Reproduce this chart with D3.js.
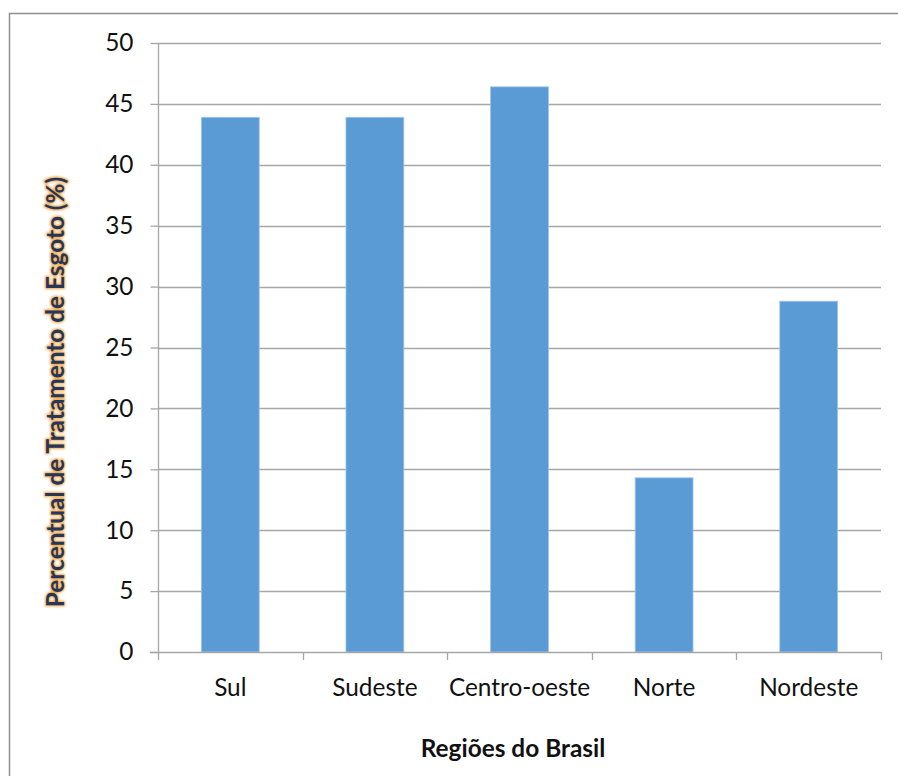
<!DOCTYPE html>
<html>
<head>
<meta charset="utf-8">
<script src="https://cdn.jsdelivr.net/npm/d3@7"></script>
<style>
  html, body { margin: 0; padding: 0; background: #fff; }
  svg { display: block; }
  text { font-family: Lato, "Open Sans", sans-serif; }
</style>
</head>
<body>
<svg id="chart" width="898" height="776"></svg>
<script>
// Sewage treatment share by Brazilian region
const regions = ["Sul", "Sudeste", "Centro-oeste", "Norte", "Nordeste"];
const treatmentPct = [43.9, 43.9, 46.4, 14.3, 28.8];
const yTicks = [0, 5, 10, 15, 20, 25, 30, 35, 40, 45, 50];
const xTitle = "Regiões do Brasil";
const yTitle = "Percentual de Tratamento de Esgoto (%)";

const svg = d3.select("#chart");
const W = 898, H = 776;
const plot = { left: 158, right: 881, top: 43, bottom: 652 };
const labelSize = 24.4;
const titleSize = 24.4;

// outer chart frame (runs off the right and bottom edges)
svg.append("rect")
  .attr("x", 9.5).attr("y", 13.5)
  .attr("width", W).attr("height", H)
  .attr("fill", "none")
  .attr("stroke", "#8f8f8f")
  .attr("stroke-width", 1.5);

const x = d3.scaleBand()
  .domain(regions)
  .range([plot.left, plot.right])
  .paddingInner(0.6)
  .paddingOuter(0.3);

const y = d3.scaleLinear()
  .domain([0, 50])
  .range([plot.bottom, plot.top]);

const gridColor = "#a6a6a6";

// horizontal gridlines
svg.append("g")
  .selectAll("line")
  .data(yTicks.filter(t => t > 0))
  .join("line")
  .attr("x1", plot.left).attr("x2", plot.right)
  .attr("y1", d => Math.round(y(d)) + 0.5)
  .attr("y2", d => Math.round(y(d)) + 0.5)
  .attr("stroke", gridColor)
  .attr("stroke-width", 1.3);

// bars
svg.append("g")
  .selectAll("rect")
  .data(regions.map((r, i) => ({ r, v: treatmentPct[i] })))
  .join("rect")
  .attr("x", d => x(d.r))
  .attr("y", d => y(d.v))
  .attr("width", x.bandwidth())
  .attr("height", d => y(0) - y(d.v))
  .attr("fill", "#5b9bd5")
  .attr("stroke", "#9fc4e8")
  .attr("stroke-width", 0.8);

// y axis
const yAxis = svg.append("g")
  .attr("transform", `translate(${plot.left + 0.5},0)`)
  .call(d3.axisLeft(y).tickValues(yTicks).tickSize(8).tickPadding(17).tickFormat(d3.format("d")));
yAxis.select(".domain").attr("stroke", gridColor).attr("stroke-width", 1.3)
  .attr("d", `M0,${plot.top}V${plot.bottom}`);
yAxis.selectAll(".tick line").attr("stroke", gridColor).attr("stroke-width", 1.3);
yAxis.selectAll(".tick text")
  .attr("font-family", "Lato, 'Open Sans', sans-serif")
  .attr("font-size", labelSize)
  .attr("fill", "#111");

// x axis baseline with ticks at category boundaries
const step = x.step();
const bounds = d3.range(regions.length + 1).map(i => x.range()[0] + i * step);
const xg = svg.append("g");
xg.append("line")
  .attr("x1", plot.left - 8).attr("x2", plot.right)
  .attr("y1", y(0) + 0.5).attr("y2", y(0) + 0.5)
  .attr("stroke", gridColor).attr("stroke-width", 1.3);
xg.selectAll("line.tk")
  .data(bounds)
  .join("line")
  .attr("class", "tk")
  .attr("x1", d => Math.round(d) + 0.5).attr("x2", d => Math.round(d) + 0.5)
  .attr("y1", y(0)).attr("y2", y(0) + 8)
  .attr("stroke", gridColor).attr("stroke-width", 1.3);
xg.selectAll("text")
  .data(regions)
  .join("text")
  .attr("x", d => x(d) + x.bandwidth() / 2)
  .attr("y", 696)
  .attr("text-anchor", "middle")
  .attr("font-size", labelSize)
  .attr("fill", "#111")
  .text(d => d);

// axis titles
svg.append("text")
  .attr("x", 513).attr("y", 757)
  .attr("text-anchor", "middle")
  .attr("font-size", titleSize)
  .attr("font-weight", "bold")
  .attr("fill", "#111")
  .text(xTitle);

const defs = svg.append("defs");
defs.append("filter").attr("id", "glow")
  .append("feGaussianBlur").attr("stdDeviation", 0.9);

const yt = svg.append("g").attr("transform", "translate(64,392) rotate(-90)");
yt.append("text")
  .attr("text-anchor", "middle")
  .attr("font-size", titleSize)
  .attr("font-weight", "bold")
  .attr("fill", "#f0a040")
  .attr("stroke", "#f0a848")
  .attr("stroke-width", 2.2)
  .attr("filter", "url(#glow)")
  .text(yTitle);
yt.append("text")
  .attr("text-anchor", "middle")
  .attr("font-size", titleSize)
  .attr("font-weight", "bold")
  .attr("fill", "#26365a")
  .text(yTitle);
</script>
</body>
</html>
